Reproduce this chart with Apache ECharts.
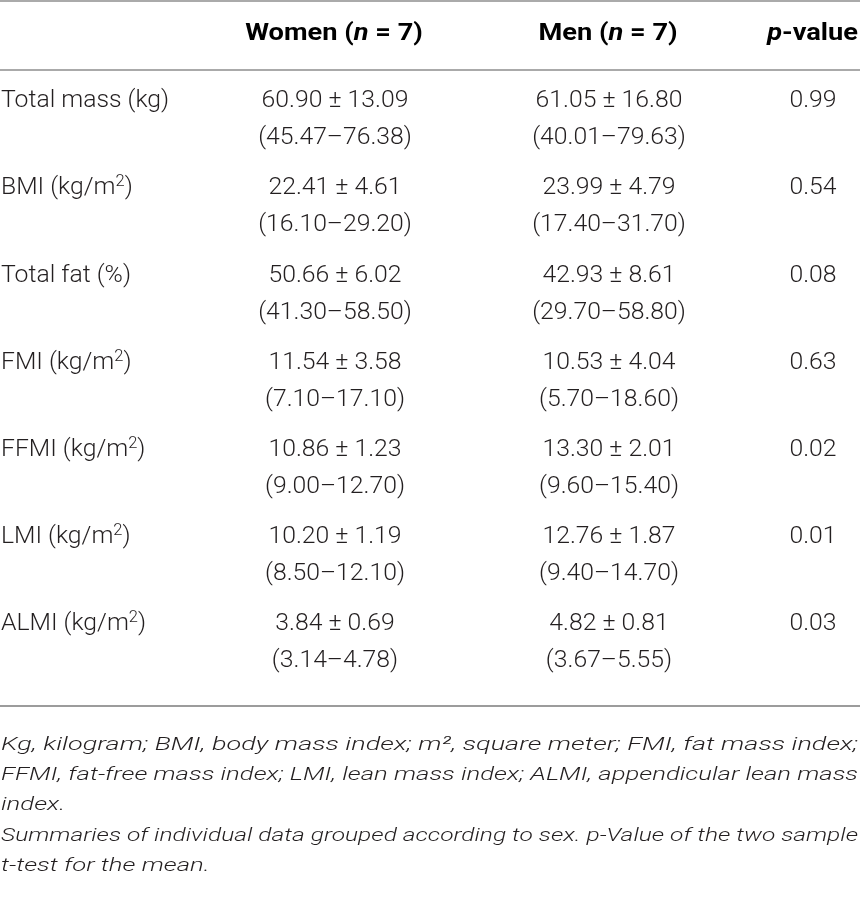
<!DOCTYPE html>
<html>
<head>
<meta charset="utf-8">
<script src="https://cdn.jsdelivr.net/npm/echarts@6/dist/echarts.min.js"></script>
<style>
    html, body {margin: 0; padding: 0; background: #fff;}
    #main {width: 860px; height: 902px;}
</style>
</head>
<body>
<div id="main"></div>
<script>
    // table values
    var rowLabels = ['Total mass (kg)', 'BMI (kg/m²)', 'Total fat (%)', 'FMI (kg/m²)', 'FFMI (kg/m²)', 'LMI (kg/m²)', 'ALMI (kg/m²)'];
    var womenMean = [60.90, 22.41, 50.66, 11.54, 10.86, 10.20, 3.84];
    var womenSD = [13.09, 4.61, 6.02, 3.58, 1.23, 1.19, 0.69];
    var womenMin = [45.47, 16.10, 41.30, 7.10, 9.00, 8.50, 3.14];
    var womenMax = [76.38, 29.20, 58.50, 17.10, 12.70, 12.10, 4.78];
    var menMean = [61.05, 23.99, 42.93, 10.53, 13.30, 12.76, 4.82];
    var menSD = [16.80, 4.79, 8.61, 4.04, 2.01, 1.87, 0.81];
    var menMin = [40.01, 17.40, 29.70, 5.70, 9.60, 9.40, 3.67];
    var menMax = [79.63, 31.70, 58.80, 18.60, 15.40, 14.70, 5.55];
    var pValues = [0.99, 0.54, 0.08, 0.63, 0.02, 0.01, 0.03];

    var headers = ['{b|Women (}{bi|n}{b| = 7)}', '{b|Men (}{bi|n}{b| = 7)}', '{bi|p}{b|-value}'];
    var footnoteLines = [
        'Kg, kilogram; BMI, body mass index; m², square meter; FMI, fat mass index;',
        'FFMI, fat-free mass index; LMI, lean mass index; ALMI, appendicular lean mass',
        'index.',
        'Summaries of individual data grouped according to sex. p-Value of the two sample',
        't-test for the mean.'
    ];

    var INK = '#231f20';
    var RULE = '#aaaaaa';
    var COL = {label: 1, women: 335, men: 609, p: 813};

    // the reference face is wider than Roboto, stretch text to match
    var ctx = document.createElement('canvas').getContext('2d');
    function textWidth(str, font) {
        ctx.font = font;
        return ctx.measureText(str).width;
    }
    var TFONT = '300 24px Roboto';
    var FFONT = 'italic 300 19px Roboto';
    var tableScale = (170 / textWidth('Total mass (kg)', TFONT) + 152 / textWidth('(45.47–76.38)', TFONT)) / 2;
    var headScale = tableScale * 1.1;
    var footTargets = [857, 857, null, 857, null];
    var footBase = 857 / textWidth(footnoteLines[1], FFONT);

    function fmt(v) {
        return v.toFixed(2);
    }

    function richLabel(s) {
        // turn the ² into a raised small 2
        var parts = s.split('²');
        if (parts.length === 1) return '{n|' + s + '}';
        return parts.map(function (p) { return '{n|' + p + '}'; }).join('{s|2}');
    }

    var bodyRich = {
        n: {fontFamily: 'Roboto', fontWeight: 300, fontSize: 24, lineHeight: 28, fill: INK},
        s: {fontFamily: 'Roboto', fontWeight: 300, fontSize: 16, lineHeight: 16, verticalAlign: 'top', fill: INK}
    };

    function cell(text, x, y, align, rich) {
        var st = {
            text: text,
            x: 0,
            y: 0,
            align: align,
            verticalAlign: 'middle',
            fill: INK,
            fontFamily: 'Roboto',
            fontWeight: 300,
            fontSize: 24
        };
        if (rich) st.rich = rich;
        return {type: 'text', x: x, y: y, scaleX: tableScale, style: st};
    }

    var graphics = [
        {type: 'rect', shape: {x: 0, y: 0, width: 860, height: 2}, style: {fill: RULE}},
        {type: 'rect', shape: {x: 0, y: 69, width: 860, height: 2}, style: {fill: RULE}},
        {type: 'rect', shape: {x: 0, y: 705, width: 860, height: 2}, style: {fill: '#9c9c9c'}}
    ];
    var headRich = {
        b: {fontFamily: 'Roboto', fontWeight: 'bold', fontSize: 24, fill: '#000'},
        bi: {fontFamily: 'Roboto', fontWeight: 'bold', fontStyle: 'italic', fontSize: 24, fill: '#000'}
    };
    var headPos = [[COL.women - 1, 'center'], [COL.men - 1, 'center'], [858, 'right']];
    headers.forEach(function (h, i) {
        graphics.push({
            type: 'text', x: headPos[i][0], y: 34, scaleX: headScale,
            style: {text: h, x: 0, y: 0, align: headPos[i][1], verticalAlign: 'middle', rich: headRich}
        });
    });
    var footY = [745, 775, 805, 836, 866];
    footnoteLines.forEach(function (line, i) {
        var sc = footTargets[i] ? footTargets[i] / textWidth(line, FFONT) : footBase;
        graphics.push({
            type: 'text', x: 1, y: footY[i], scaleX: sc,
            style: {
                text: line, x: 0, y: 0, align: 'left', verticalAlign: 'middle', fill: INK,
                fontFamily: 'Roboto', fontStyle: 'italic', fontWeight: 300, fontSize: 19
            }
        });
    });

    var chart = echarts.init(document.getElementById('main'));
    var option = {
        animation: false,
        grid: {left: 0, right: 0, top: 76, height: 87.2 * rowLabels.length},
        xAxis: {type: 'value', min: 0, max: 860, show: false},
        yAxis: {type: 'category', data: rowLabels, inverse: true, show: false},
        graphic: graphics,
        series: [{
            type: 'custom',
            data: rowLabels.map(function (l, i) { return [0, i]; }),
            renderItem: function (params, api) {
                var i = params.dataIndex;
                var yc = api.coord([0, i])[1];
                var x = function (c) { return api.coord([c, i])[0]; };
                var y1 = yc - 18.5, y2 = yc + 18.5;
                return {
                    type: 'group',
                    children: [
                        cell(richLabel(rowLabels[i]), x(COL.label), y1, 'left', bodyRich),
                        cell(fmt(womenMean[i]) + ' ± ' + fmt(womenSD[i]), x(COL.women), y1, 'center'),
                        cell('(' + fmt(womenMin[i]) + '–' + fmt(womenMax[i]) + ')', x(COL.women), y2, 'center'),
                        cell(fmt(menMean[i]) + ' ± ' + fmt(menSD[i]), x(COL.men), y1, 'center'),
                        cell('(' + fmt(menMin[i]) + '–' + fmt(menMax[i]) + ')', x(COL.men), y2, 'center'),
                        cell(fmt(pValues[i]), x(COL.p), y1, 'center')
                    ]
                };
            }
        }]
    };
    chart.setOption(option);
</script>
</body>
</html>
